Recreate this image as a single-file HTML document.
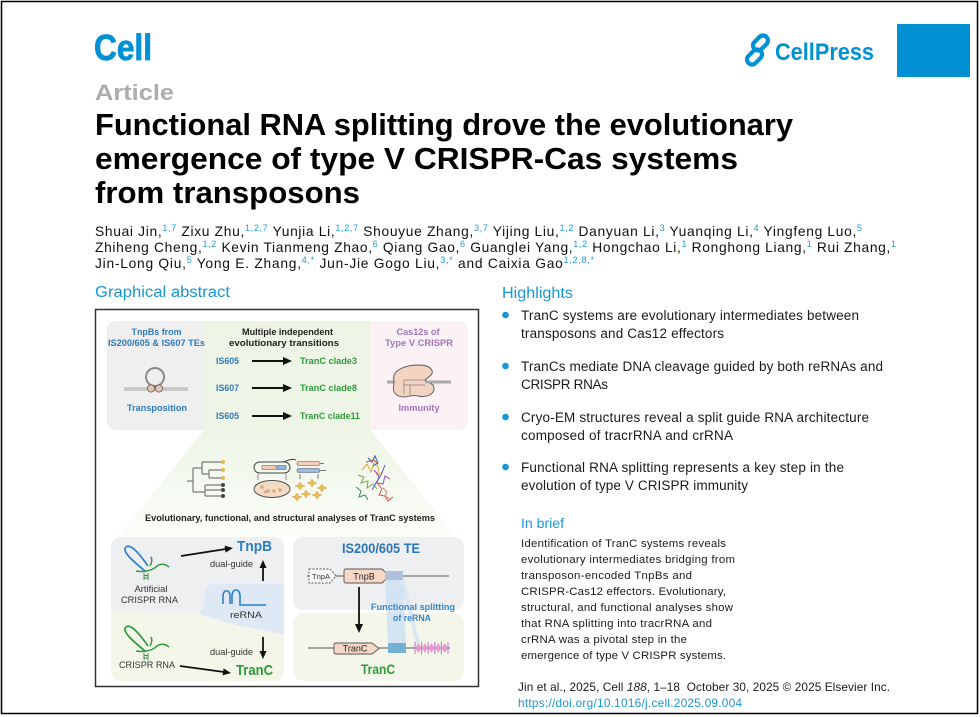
<!DOCTYPE html>
<html><head><meta charset="utf-8"><style>
html,body{margin:0;padding:0;background:#fff;}
svg{display:block;}
text{font-family:"Liberation Sans",Arial,Helvetica,sans-serif;}
.b{font-weight:bold;}
.sup{font-size:9px;fill:#1e9bd7;}
</style></head><body>
<svg width="980" height="717" viewBox="0 0 980 717" xmlns="http://www.w3.org/2000/svg">
<defs>
<linearGradient id="tg" x1="0" y1="0" x2="0" y2="1">
<stop offset="0" stop-color="#eef5e6"/><stop offset="1" stop-color="#fbfdf9"/>
</linearGradient>
<clipPath id="cl"><rect x="111" y="537" width="173" height="144" rx="10"/></clipPath>
</defs>
<rect x="0" y="0" width="980" height="717" fill="#fff"/>
<rect x="1.5" y="1.5" width="976" height="712" fill="#fff" stroke="#000" stroke-width="1.5"/>

<!-- header -->
<text x="94" y="60" font-size="36" class="b" fill="#0091d5" stroke="#0091d5" stroke-width="0.8" textLength="58" lengthAdjust="spacingAndGlyphs">Cell</text>
<g fill="none" stroke="#0091d5" stroke-width="4.2">
<rect x="752" y="38" width="17" height="10" rx="5" transform="rotate(-45 760.5 43)"/>
<rect x="746" y="52" width="17" height="10" rx="5" transform="rotate(-45 754.5 57)"/>
</g>
<text x="775" y="60" font-size="24" class="b" fill="#0091d5" textLength="99" lengthAdjust="spacingAndGlyphs">CellPress</text>
<rect x="897" y="24" width="73" height="53" fill="#0090d3"/>

<text x="95" y="100" font-size="22" class="b" fill="#adadad" textLength="79" lengthAdjust="spacingAndGlyphs">Article</text>
<text x="95" y="135" font-size="31" class="b" fill="#000" textLength="698" lengthAdjust="spacingAndGlyphs">Functional RNA splitting drove the evolutionary</text>
<text x="95" y="169" font-size="31" class="b" fill="#000" textLength="643" lengthAdjust="spacingAndGlyphs">emergence of type V CRISPR-Cas systems</text>
<text x="95" y="203" font-size="31" class="b" fill="#000" textLength="265" lengthAdjust="spacingAndGlyphs">from transposons</text>

<text x="95" y="236" font-size="13.8" fill="#111" textLength="767" lengthAdjust="spacing">Shuai Jin,<tspan class="sup" dy="-5">1,7</tspan><tspan dy="5"> Zixu Zhu,</tspan><tspan class="sup" dy="-5">1,2,7</tspan><tspan dy="5"> Yunjia Li,</tspan><tspan class="sup" dy="-5">1,2,7</tspan><tspan dy="5"> Shouyue Zhang,</tspan><tspan class="sup" dy="-5">3,7</tspan><tspan dy="5"> Yijing Liu,</tspan><tspan class="sup" dy="-5">1,2</tspan><tspan dy="5"> Danyuan Li,</tspan><tspan class="sup" dy="-5">3</tspan><tspan dy="5"> Yuanqing Li,</tspan><tspan class="sup" dy="-5">4</tspan><tspan dy="5"> Yingfeng Luo,</tspan><tspan class="sup" dy="-5">5</tspan></text>
<text x="95" y="252" font-size="13.8" fill="#111" textLength="801" lengthAdjust="spacing">Zhiheng Cheng,<tspan class="sup" dy="-5">1,2</tspan><tspan dy="5"> Kevin Tianmeng Zhao,</tspan><tspan class="sup" dy="-5">6</tspan><tspan dy="5"> Qiang Gao,</tspan><tspan class="sup" dy="-5">6</tspan><tspan dy="5"> Guanglei Yang,</tspan><tspan class="sup" dy="-5">1,2</tspan><tspan dy="5"> Hongchao Li,</tspan><tspan class="sup" dy="-5">1</tspan><tspan dy="5"> Ronghong Liang,</tspan><tspan class="sup" dy="-5">1</tspan><tspan dy="5"> Rui Zhang,</tspan><tspan class="sup" dy="-5">1</tspan></text>
<text x="95" y="268" font-size="13.8" fill="#111" textLength="499" lengthAdjust="spacing">Jin-Long Qiu,<tspan class="sup" dy="-5">5</tspan><tspan dy="5"> Yong E. Zhang,</tspan><tspan class="sup" dy="-5">4,*</tspan><tspan dy="5"> Jun-Jie Gogo Liu,</tspan><tspan class="sup" dy="-5">3,*</tspan><tspan dy="5"> and Caixia Gao</tspan><tspan class="sup" dy="-5">1,2,8,*</tspan></text>

<!-- Graphical abstract -->
<text x="95" y="297" font-size="15.5" fill="#1a96d4" textLength="135" lengthAdjust="spacingAndGlyphs">Graphical abstract</text>
<rect x="95.5" y="309.5" width="383" height="377" fill="#fff" stroke="#333" stroke-width="1.5"/>

<!-- top row -->
<rect x="107" y="321" width="110" height="109" rx="9" fill="#efeff0"/>
<rect x="360" y="321" width="108" height="109" rx="9" fill="#fcf1f4"/>
<polygon points="204,430 370,430 456,537 118,537" fill="url(#tg)"/>
<rect x="204" y="321" width="166" height="109" fill="#eef5e7"/>

<text x="156.5" y="335" text-anchor="middle" font-size="9.6" class="b" fill="#2f7ab8" textLength="50" lengthAdjust="spacingAndGlyphs">TnpBs from</text>
<text x="156.5" y="346" text-anchor="middle" font-size="9.6" class="b" fill="#2f7ab8" textLength="97" lengthAdjust="spacingAndGlyphs">IS200/605 &amp; IS607 TEs</text>
<text x="287.5" y="335" text-anchor="middle" font-size="9.6" class="b" fill="#222" textLength="91" lengthAdjust="spacingAndGlyphs">Multiple independent</text>
<text x="284" y="346" text-anchor="middle" font-size="9.6" class="b" fill="#222" textLength="110" lengthAdjust="spacingAndGlyphs">evolutionary transitions</text>
<text x="418" y="335" text-anchor="middle" font-size="9.6" class="b" fill="#a075bd" textLength="43" lengthAdjust="spacingAndGlyphs">Cas12s of</text>
<text x="419" y="346" text-anchor="middle" font-size="9.6" class="b" fill="#a075bd" textLength="68" lengthAdjust="spacingAndGlyphs">Type V CRISPR</text>

<g font-size="9.6" class="b">
<text x="216" y="364" fill="#2f7ab8" textLength="23" lengthAdjust="spacingAndGlyphs">IS605</text>
<text x="216" y="391" fill="#2f7ab8" textLength="23" lengthAdjust="spacingAndGlyphs">IS607</text>
<text x="216" y="419" fill="#2f7ab8" textLength="23" lengthAdjust="spacingAndGlyphs">IS605</text>
<text x="300" y="364" fill="#2e9b3a" textLength="57" lengthAdjust="spacingAndGlyphs">TranC clade3</text>
<text x="300" y="391" fill="#2e9b3a" textLength="57" lengthAdjust="spacingAndGlyphs">TranC clade8</text>
<text x="300" y="419" fill="#2e9b3a" textLength="60" lengthAdjust="spacingAndGlyphs">TranC clade11</text>
</g>
<g stroke="#111" stroke-width="2">
<line x1="252" y1="361" x2="284" y2="361"/><line x1="252" y1="388" x2="284" y2="388"/><line x1="252" y1="416" x2="284" y2="416"/>
</g>
<g fill="#111">
<polygon points="292,361 283,357 283,365"/><polygon points="292,388 283,384 283,392"/><polygon points="292,416 283,412 283,420"/>
</g>

<!-- transposition icon -->
<line x1="124" y1="389" x2="188" y2="389" stroke="#b3b3b3" stroke-width="3.2"/>
<line x1="124" y1="389" x2="188" y2="389" stroke="#e4e4e4" stroke-width="0.8"/>
<circle cx="155" cy="377" r="9" fill="none" stroke="#8a8a8a" stroke-width="2"/>
<circle cx="151" cy="388.5" r="3.6" fill="#e5c5b3" stroke="#6a5a50" stroke-width="0.8"/>
<circle cx="159" cy="388.5" r="3.6" fill="#e5c5b3" stroke="#6a5a50" stroke-width="0.8"/>
<text x="157" y="411" text-anchor="middle" font-size="9.6" class="b" fill="#2f7ab8" textLength="60" lengthAdjust="spacingAndGlyphs">Transposition</text>

<!-- Cas12 icon -->
<line x1="387" y1="382" x2="451" y2="382" stroke="#a8a8a8" stroke-width="3"/>
<path d="M394 381 C391 371,404 365,419 365 C429 365,435 370,431 375 L425 380 L433 385 C437 393,428 398,418 396 C411 394,405 399,399 396 C391 393,394 387,394 381 Z" fill="#f3d4c3" stroke="#555" stroke-width="0.9"/>
<path d="M404 380 L425 380 M404 385 L425 385 M404 380 L404 394 M410 385 L410 395" stroke="#8a7a70" stroke-width="0.7" fill="none"/>
<line x1="425" y1="382" x2="451" y2="382" stroke="#a8a8a8" stroke-width="2.5"/>
<text x="419" y="411" text-anchor="middle" font-size="9.6" class="b" fill="#a075bd" textLength="41" lengthAdjust="spacingAndGlyphs">Immunity</text>

<!-- middle icons: tree -->
<g stroke="#7a7a7a" stroke-width="1.2" fill="none">
<path d="M187 481 H193 M193 468 V492 M193 468 H202 M202 462 V474 M202 462 H222 M202 474 H209 M209 470 V478 M209 470 H222 M209 478 H222 M193 492 H205 M205 485 V496 M205 485 H222 M205 490 H222 M205 496 H222"/>
</g>
<g fill="#e9b44c"><circle cx="223" cy="462" r="2"/><circle cx="223" cy="470" r="2"/><circle cx="223" cy="478" r="2"/></g>
<g fill="#444"><circle cx="223" cy="485" r="2"/><circle cx="223" cy="490" r="2"/><circle cx="223" cy="496" r="2"/></g>
<!-- plasmid / dish -->
<rect x="254" y="462" width="36" height="11" rx="5.5" fill="none" stroke="#444" stroke-width="1"/>
<rect x="262" y="465.5" width="14" height="4" fill="#f2cdbb" stroke="#555" stroke-width="0.5"/>
<rect x="277" y="465.5" width="9" height="4" fill="#8fb3e0" stroke="#555" stroke-width="0.5"/>
<path d="M284 462 Q292 458 296 460" stroke="#444" fill="none"/>
<path d="M258 474 V480 M286 474 V480" stroke="#777" stroke-width="0.8"/>
<ellipse cx="272" cy="489" rx="18" ry="8.5" fill="#f2dcc6" stroke="#555" stroke-width="1"/>
<g fill="#d9a97e"><circle cx="262" cy="487" r="1.8"/><circle cx="268" cy="491" r="1.8"/><circle cx="274" cy="491" r="1.8"/><circle cx="280" cy="490" r="1.8"/><circle cx="265" cy="492" r="1.5"/></g>
<rect x="297" y="461.5" width="23" height="4" rx="2" fill="#f2cdbb" stroke="#555" stroke-width="0.6"/>
<rect x="297" y="468.5" width="23" height="4" rx="2" fill="#9bbbe6" stroke="#555" stroke-width="0.6"/>
<path d="M320 463.5 L324 463.5 M320 470.5 L326 470.5 M300 474 V479 M318 474 V479" stroke="#555" stroke-width="0.8"/>
<g fill="#ecbd55" stroke="#c8952c" stroke-width="0.4">
<path d="M300 482 l2 3 3 1 -3 1 -2 3 -2 -3 -3 -1 3 -1z"/>
<path d="M312 479 l2 3 3 1 -3 1 -2 3 -2 -3 -3 -1 3 -1z"/>
<path d="M322 484 l2 3 3 1 -3 1 -2 3 -2 -3 -3 -1 3 -1z"/>
<path d="M306 490 l2 3 3 1 -3 1 -2 3 -2 -3 -3 -1 3 -1z"/>
<path d="M317 491 l2 3 3 1 -3 1 -2 3 -2 -3 -3 -1 3 -1z"/>
<path d="M297 493 l2 3 3 1 -3 1 -2 3 -2 -3 -3 -1 3 -1z"/>
</g>
<!-- structure -->
<g fill="none" stroke-width="1">
<path d="M362 470 l5 -6 4 8 3 -9 5 5 -2 7 6 -3" stroke="#e3a23a"/>
<path d="M368 458 l4 4 3 -6 3 7 -5 3" stroke="#3a5fb0"/>
<path d="M358 475 l6 2 -3 6 7 -2 -1 7 6 -4 4 5" stroke="#7aa84a"/>
<path d="M374 470 l5 6 -2 7 6 1 2 -8 5 3" stroke="#9a4db0"/>
<path d="M385 465 l-4 10 -5 8 -4 7" stroke="#5a5ac8"/>
<path d="M356 487 l5 4 -2 6 6 -2 3 5" stroke="#3b8a5a"/>
<path d="M378 484 l4 5 -3 6 6 1 3 5 5 -4" stroke="#d9534f"/>
<path d="M383 488 l4 4 -2 4 5 3" stroke="#e07a7a"/>
<path d="M366 462 l8 -2 4 4" stroke="#b5533a"/>
</g>
<text x="290" y="521" text-anchor="middle" font-size="9.3" class="b" fill="#222" textLength="290" lengthAdjust="spacingAndGlyphs">Evolutionary, functional, and structural analyses of TranC systems</text>

<!-- bottom left panel -->
<g clip-path="url(#cl)">
<rect x="111" y="537" width="173" height="144" fill="#eeeff1"/>
<path d="M111 612 L205 613 L284 633 L284 681 L111 681 Z" fill="#f4f6ea"/>
<path d="M284 584 L214 584 Q205 585 205 595 Q205 608 199 614 Q240 628 284 634 Z" fill="#dfe9f6"/>
</g>
<!-- artificial crispr rna icon -->
<path d="M145 571 C134 562,121 551,126 547 C131 543,141 556,148 566" fill="none" stroke="#2f80c8" stroke-width="1.7"/>
<path d="M136 571 Q150 573 157 566 Q163 562 169 567 M150 566 Q153 561 151 557" fill="none" stroke="#2e9b3a" stroke-width="1.5"/>
<path d="M144 573 V580 M148 573 V580 M144 575.5 H148 M144 578 H148" stroke="#2e9b3a" stroke-width="1"/>
<!-- crispr rna icon -->
<path d="M145 651 C134 642,121 631,126 627 C131 623,141 636,148 646" fill="none" stroke="#2e9b3a" stroke-width="1.7"/>
<path d="M136 651 Q150 653 157 646 Q163 642 169 647 M150 646 Q153 641 151 637" fill="none" stroke="#2e9b3a" stroke-width="1.5"/>
<path d="M144 653 V660 M148 653 V660 M144 655.5 H148 M144 658 H148" stroke="#2e9b3a" stroke-width="1"/>
<!-- reRNA icon -->
<path d="M223 604 V596 C223 589,230 589,230 596 V604 M232 604 V596 C232 588,240 588,240 596 V605 H266" fill="none" stroke="#2f80c8" stroke-width="1.6"/>

<text x="237" y="551" font-size="15" class="b" fill="#2a7dc1" textLength="35" lengthAdjust="spacingAndGlyphs">TnpB</text>
<text x="210" y="567" font-size="9.5" fill="#333" textLength="43" lengthAdjust="spacingAndGlyphs">dual-guide</text>
<text x="151" y="592" text-anchor="middle" font-size="9.5" fill="#333" textLength="33" lengthAdjust="spacingAndGlyphs">Artificial</text>
<text x="149.5" y="603" text-anchor="middle" font-size="9.5" fill="#333" textLength="57" lengthAdjust="spacingAndGlyphs">CRISPR RNA</text>
<text x="230" y="618" font-size="9.5" fill="#333" textLength="32" lengthAdjust="spacingAndGlyphs">reRNA</text>
<text x="210" y="655" font-size="9.5" fill="#333" textLength="43" lengthAdjust="spacingAndGlyphs">dual-guide</text>
<text x="119" y="668" font-size="9.5" fill="#333" textLength="56" lengthAdjust="spacingAndGlyphs">CRISPR RNA</text>
<text x="236" y="675" font-size="15" class="b" fill="#2e9b3a" textLength="37" lengthAdjust="spacingAndGlyphs">TranC</text>
<g stroke="#111" stroke-width="1.8">
<line x1="181" y1="556" x2="226" y2="549"/>
<line x1="180" y1="666" x2="224" y2="672"/>
<line x1="263" y1="581" x2="263" y2="567"/>
<line x1="263" y1="637" x2="263" y2="652"/>
</g>
<g fill="#111">
<polygon points="233,548 225.6,552.6 224.6,545.6"/>
<polygon points="231,673 222.6,675.4 223.6,668.4"/>
<polygon points="263,560 259.5,568 266.5,568"/>
<polygon points="263,659 259.5,651 266.5,651"/>
</g>

<!-- bottom right panel -->
<rect x="293" y="537" width="171" height="73" rx="10" fill="#eeeff1"/>
<rect x="293" y="613" width="171" height="68" rx="10" fill="#f4f6ea"/>
<text x="342" y="553" font-size="14" class="b" fill="#2a74b8" textLength="78" lengthAdjust="spacingAndGlyphs">IS200/605 TE</text>
<polygon points="385,580 403,580 406,643 388,643" fill="#cfe0f3" opacity="0.85"/>
<polygon points="400,580 404,578 420,644 416,644" fill="#d6e5f5" opacity="0.9"/>
<line x1="307" y1="576" x2="449" y2="576" stroke="#777" stroke-width="1.2"/>
<path d="M309 569 H330 L336 576 L330 583 H309 Z" fill="#f7f7f7" stroke="#555" stroke-width="0.9" stroke-dasharray="2,1.5"/>
<text x="321" y="579" text-anchor="middle" font-size="7.5" fill="#333">TnpA</text>
<path d="M346 569 H382 L389 576 L382 583 H346 Q344 583 344 581 V571 Q344 569 346 569 Z" fill="#f7d8c6" stroke="#555" stroke-width="0.9"/>
<text x="364" y="579.5" text-anchor="middle" font-size="9" fill="#222">TnpB</text>
<rect x="385" y="571" width="18" height="9" fill="#aec0de"/>
<line x1="359" y1="587" x2="359" y2="625" stroke="#111" stroke-width="1.8"/>
<polygon points="359,633 355,624 363,624" fill="#111"/>
<text x="371" y="610" font-size="9.5" class="b" fill="#3d86c6" textLength="84" lengthAdjust="spacingAndGlyphs">Functional splitting</text>
<text x="412" y="621" text-anchor="middle" font-size="9.5" class="b" fill="#3d86c6" textLength="38" lengthAdjust="spacingAndGlyphs">of reRNA</text>
<line x1="308" y1="648" x2="450" y2="648" stroke="#777" stroke-width="1.2"/>
<path d="M336 643 H372 L379 648.5 L372 654 H336 Q334 654 334 652 V645 Q334 643 336 643 Z" fill="#f7d8c6" stroke="#555" stroke-width="0.9"/>
<text x="355" y="651.5" text-anchor="middle" font-size="9" fill="#222">TranC</text>
<rect x="388" y="643" width="18" height="10" fill="#72b0d6"/>
<g fill="#e89ad0">
<polygon points="418.3,643 421.3,648 418.3,653 415.3,648"/>
<polygon points="424.9,643 427.9,648 424.9,653 421.9,648"/>
<polygon points="431.5,643 434.5,648 431.5,653 428.5,648"/>
<polygon points="438.1,643 441.1,648 438.1,653 435.1,648"/>
<polygon points="444.7,643 447.7,648 444.7,653 441.7,648"/>
</g>
<g stroke="#b07cc4" stroke-width="1">
<line x1="415" y1="642" x2="415" y2="654"/><line x1="421.6" y1="642" x2="421.6" y2="654"/><line x1="428.2" y1="642" x2="428.2" y2="654"/><line x1="434.8" y1="642" x2="434.8" y2="654"/><line x1="441.4" y1="642" x2="441.4" y2="654"/><line x1="448" y1="642" x2="448" y2="654"/>
</g>
<text x="378" y="674" text-anchor="middle" font-size="14" class="b" fill="#2e9b3a" textLength="34" lengthAdjust="spacingAndGlyphs">TranC</text>

<!-- Highlights -->
<text x="502" y="298" font-size="16" fill="#1a96d4" textLength="71" lengthAdjust="spacingAndGlyphs">Highlights</text>
<g fill="#1a96d4">
<circle cx="505.5" cy="315" r="3.3"/><circle cx="505.5" cy="366" r="3.3"/><circle cx="505.5" cy="417" r="3.3"/><circle cx="505.5" cy="467" r="3.3"/>
</g>
<g font-size="13.5" fill="#1a1a1a">
<text x="521" y="320" textLength="338" lengthAdjust="spacing">TranC systems are evolutionary intermediates between</text>
<text x="521" y="338" textLength="203" lengthAdjust="spacing">transposons and Cas12 effectors</text>
<text x="521" y="371" textLength="362" lengthAdjust="spacing">TranCs mediate DNA cleavage guided by both reRNAs and</text>
<text x="521" y="389" textLength="87" lengthAdjust="spacing">CRISPR RNAs</text>
<text x="521" y="422" textLength="348" lengthAdjust="spacing">Cryo-EM structures reveal a split guide RNA architecture</text>
<text x="521" y="440" textLength="212" lengthAdjust="spacing">composed of tracrRNA and crRNA</text>
<text x="521" y="472" textLength="323" lengthAdjust="spacing">Functional RNA splitting represents a key step in the</text>
<text x="521" y="490" textLength="227" lengthAdjust="spacing">evolution of type V CRISPR immunity</text>
</g>

<!-- In brief -->
<text x="521" y="528" font-size="14" fill="#1a96d4" textLength="43" lengthAdjust="spacingAndGlyphs">In brief</text>
<g font-size="11.4" fill="#1a1a1a">
<text x="521" y="547" textLength="205" lengthAdjust="spacing">Identification of TranC systems reveals</text>
<text x="521" y="563" textLength="214" lengthAdjust="spacing">evolutionary intermediates bridging from</text>
<text x="521" y="579" textLength="171" lengthAdjust="spacing">transposon-encoded TnpBs and</text>
<text x="521" y="595" textLength="205" lengthAdjust="spacing">CRISPR-Cas12 effectors. Evolutionary,</text>
<text x="521" y="611" textLength="212" lengthAdjust="spacing">structural, and functional analyses show</text>
<text x="521" y="627" textLength="191" lengthAdjust="spacing">that RNA splitting into tracrRNA and</text>
<text x="521" y="643" textLength="166" lengthAdjust="spacing">crRNA was a pivotal step in the</text>
<text x="521" y="659" textLength="205" lengthAdjust="spacing">emergence of type V CRISPR systems.</text>
</g>

<!-- footer -->
<text x="518" y="691" font-size="11.8" fill="#1a1a1a" style="white-space:pre" textLength="372" lengthAdjust="spacing">Jin et al., 2025, Cell <tspan font-style="italic">188</tspan>, 1–18  October 30, 2025 © 2025 Elsevier Inc.</text>
<text x="518" y="707" font-size="11.8" fill="#1a96d4" textLength="224" lengthAdjust="spacing">https://doi.org/10.1016/j.cell.2025.09.004</text>
</svg>
</body></html>
